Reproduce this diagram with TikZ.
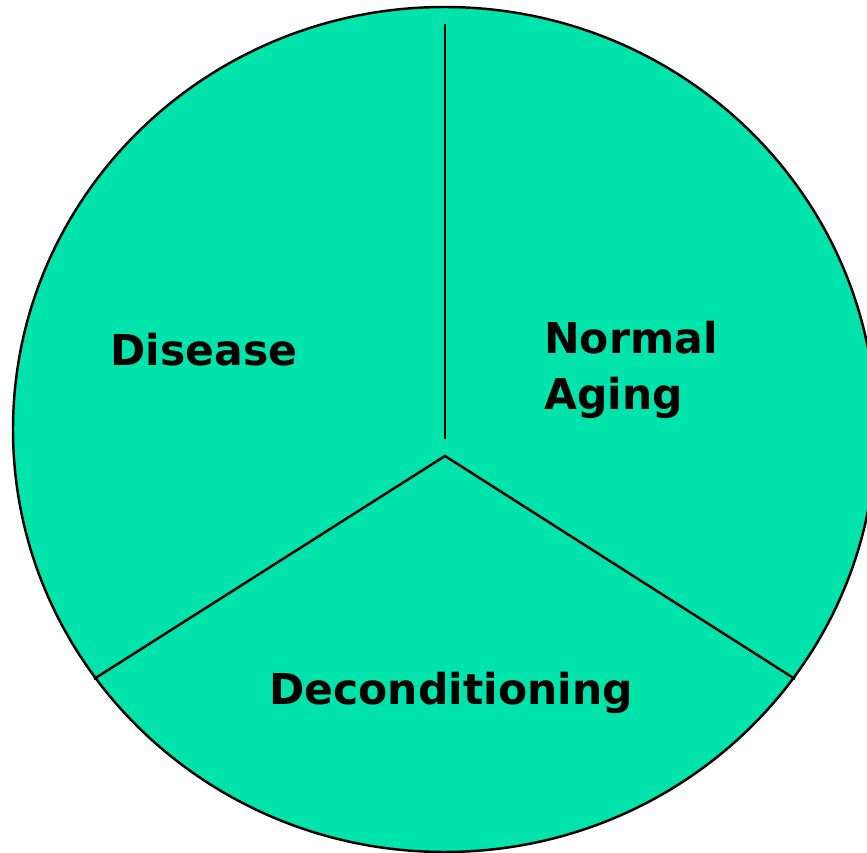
\documentclass[tikz,border=0pt]{standalone}
\usepackage{fontspec}
\newfontfamily\piefont{DejaVu Sans}
\definecolor{piegreen}{RGB}{0,227,170}
\tikzset{part/.style={font=\piefont\bfseries\fontsize{24.2}{32.4}\selectfont, inner sep=0pt, align=left, anchor=base west}}

\begin{document}
\begin{tikzpicture}[x=0.02cm,y=0.02cm]
	\useasboundingbox (0,0) rectangle (867,853);
	\clip (0,0) rectangle (867,853);
	% the pie
	\filldraw[fill=piegreen, line width=1.4pt]
		(444.5,423.5) ellipse [x radius=431.5, y radius=422.5];
	\coordinate (top) at (445,829);
	\coordinate (mid) at (445,414);
	\coordinate (hub) at (445,397);
	\coordinate (lend) at (94,174);
	\coordinate (rend) at (795,174);
	\draw[line width=1.4pt] (top) -- (mid);
	\draw[line width=1.4pt] (lend) -- (hub) -- (rend);
	% the three parts
	\node[part] (disease) at (110,487) {Disease};
	\node[part] (aging) at (544,443) {Normal\\Aging};
	\node[part] (decon) at (269,148) {Deconditioning};
\end{tikzpicture}
\end{document}
